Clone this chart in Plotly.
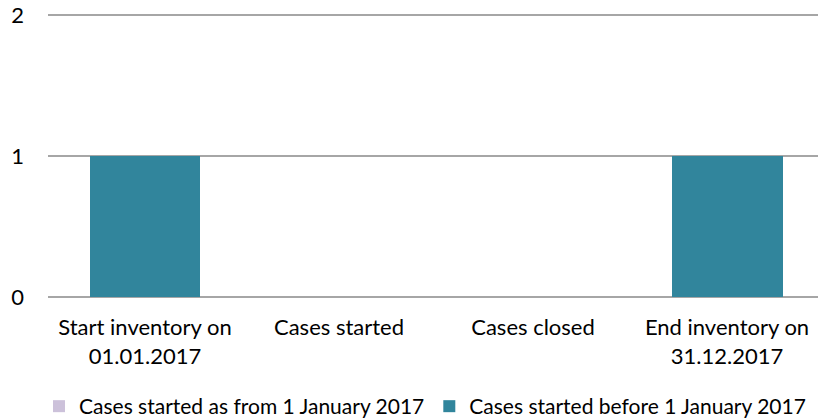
import plotly.graph_objects as go

categories = ["Start inventory on<br>01.01.2017", "Cases started", "Cases closed", "End inventory on<br>31.12.2017"]
series_after = [0, 0, 0, 0]
series_before = [1, 0, 0, 1]
names = ["Cases started as from 1 January 2017", "Cases started before 1 January 2017"]
tick_vals = [0, 1, 2]

fig = go.Figure()
fig.add_trace(go.Bar(x=list(range(4)), y=series_after, name=names[0], marker_color="#CCC1DA",
                     width=0.572, marker_line_width=0))
fig.add_trace(go.Bar(x=list(range(4)), y=series_before, name=names[1], marker_color="#31859C",
                     width=0.572, marker_line_width=0))
fig.update_layout(
    barmode="stack",
    width=818, height=419,
    margin=dict(l=48, r=0, t=14, b=122, autoexpand=False),
    plot_bgcolor="white", paper_bgcolor="white",
    font=dict(family="Lato", size=22, color="#000000"),
    showlegend=True,
    legend=dict(orientation="h", x=-0.0117, xanchor="left", y=-0.387, yanchor="middle",
                font=dict(size=21), traceorder="normal", itemwidth=30),
)
fig.update_xaxes(range=[-0.5, 3.469], tickmode="array", tickvals=list(range(4)), ticktext=categories,
                 showgrid=False, showline=False, zeroline=False, ticks="", ticklabelstandoff=15,
                 automargin=False)
fig.update_yaxes(range=[0, 2.01], tickvals=tick_vals, showgrid=True, gridcolor="#A6A6A6", gridwidth=1.5,
                 zeroline=True, zerolinecolor="#A6A6A6", zerolinewidth=1.5, showline=False, ticks="",
                 ticklabelstandoff=23, automargin=False)
fig.write_html("out.html", config={"displayModeBar": False},
               post_script="document.body.style.margin='0';")
